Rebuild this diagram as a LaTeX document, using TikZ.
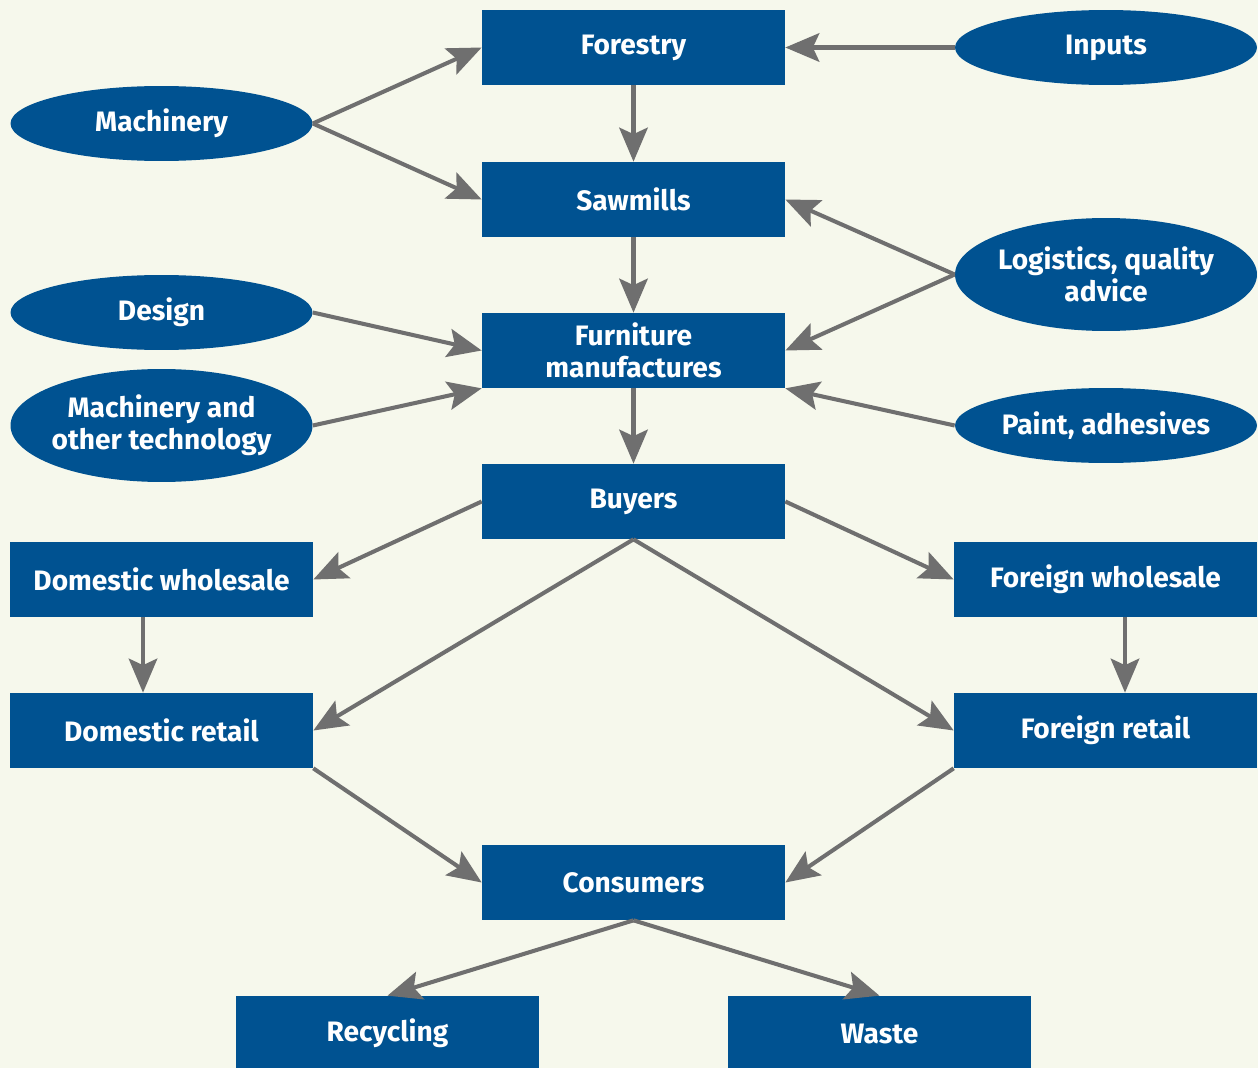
\documentclass[tikz,border=0pt]{standalone}
\usepackage{fontspec}
\setmainfont{Fira Sans}
\usepackage{tikz}
\usetikzlibrary{arrows.meta,shapes.geometric}

\definecolor{boxblue}{HTML}{005291}
\definecolor{paper}{HTML}{F6F8EC}
\definecolor{linegray}{HTML}{6F6F6F}

\tikzset{
  stage/.style={rectangle, fill=boxblue, text=white, minimum width=6.06cm, minimum height=1.5cm, inner sep=0pt, align=center},
  source/.style={ellipse, fill=boxblue, text=white, minimum width=6.04cm, minimum height=1.5cm, inner sep=0pt, align=center},
  tallsource/.style={source, minimum height=2.26cm, inner xsep=-0.4cm},
  flow/.style={draw=linegray, line width=2.3pt, -{Stealth[length=0.68cm,width=0.57cm,inset=0.13cm]}}
}

\begin{document}
\begin{tikzpicture}[x=0.02cm,y=-0.02cm, every node/.style={font=\fontsize{16}{18}\selectfont\bfseries}]
                \fill[paper] (0,0) rectangle (1258,1068);
                \useasboundingbox (0,0) rectangle (1258,1068);

                % main chain
                \node[stage] (forestry) at (633.5,47.5) {Forestry};
                \node[stage] (sawmills) at (633.5,199.5) {Sawmills};
                \node[stage] (furniture) at (633.5,350.5) {Furniture\\manufactures};
                \node[stage] (buyers) at (633.5,501.5) {Buyers};

                % inputs
                \node[source] (inputs) at (1106,47.5) {Inputs};
                \node[source] (machinery) at (161.5,123.5) {Machinery};
                \node[tallsource] (logistics) at (1106,274.5) {Logistics, quality\\advice};
                \node[source] (design) at (161.5,312.5) {Design};
                \node[tallsource] (tech) at (161.5,425.5) {Machinery and\\other technology};
                \node[source] (paint) at (1106,425.5) {Paint, adhesives};

                \draw[flow] (inputs) -- (forestry);
                \draw[flow] (machinery.east) -- (forestry.west);
                \draw[flow] (machinery.east) -- (sawmills.west);
                \draw[flow] (forestry) -- (sawmills);
                \draw[flow] (sawmills) -- (furniture);
                \draw[flow] (logistics.west) -- (sawmills.east);
                \draw[flow] (logistics.west) -- (furniture.east);
                \draw[flow] (design.east) -- (furniture.west);
                \draw[flow] (tech.east) -- (furniture.south west);
                \draw[flow] (paint.west) -- (furniture.south east);
                \draw[flow] (furniture) -- (buyers);

                % trade
                \node[stage] (domwhole) at (161.5,579.5) {Domestic wholesale};
                \node[stage] (forwhole) at (1105.5,579.5) {Foreign wholesale};
                \node[stage] (domretail) at (161.5,730.5) {Domestic retail};
                \node[stage] (forretail) at (1105.5,730.5) {Foreign retail};

                \draw[flow] (buyers.west) -- (domwhole.east);
                \draw[flow] (buyers.east) -- (forwhole.west);
                \draw[flow] (buyers.south) -- (domretail.east);
                \draw[flow] (buyers.south) -- (forretail.west);
                \draw[flow] ([xshift=-0.37cm]domwhole.south) -- ([xshift=-0.37cm]domretail.north);
                \draw[flow] ([xshift=0.39cm]forwhole.south) -- ([xshift=0.39cm]forretail.north);

                % end of life
                \node[stage] (consumers) at (633.5,882.5) {Consumers};
                \node[stage] (recycling) at (387.5,1033.5) {Recycling};
                \node[stage] (waste) at (879.5,1033.5) {Waste};

                \draw[flow] (domretail.south east) -- (consumers.west);
                \draw[flow] (forretail.south west) -- (consumers.east);
                \draw[flow] (consumers.south) -- (recycling.north);
                \draw[flow] (consumers.south) -- (waste.north);
\end{tikzpicture}
\end{document}
